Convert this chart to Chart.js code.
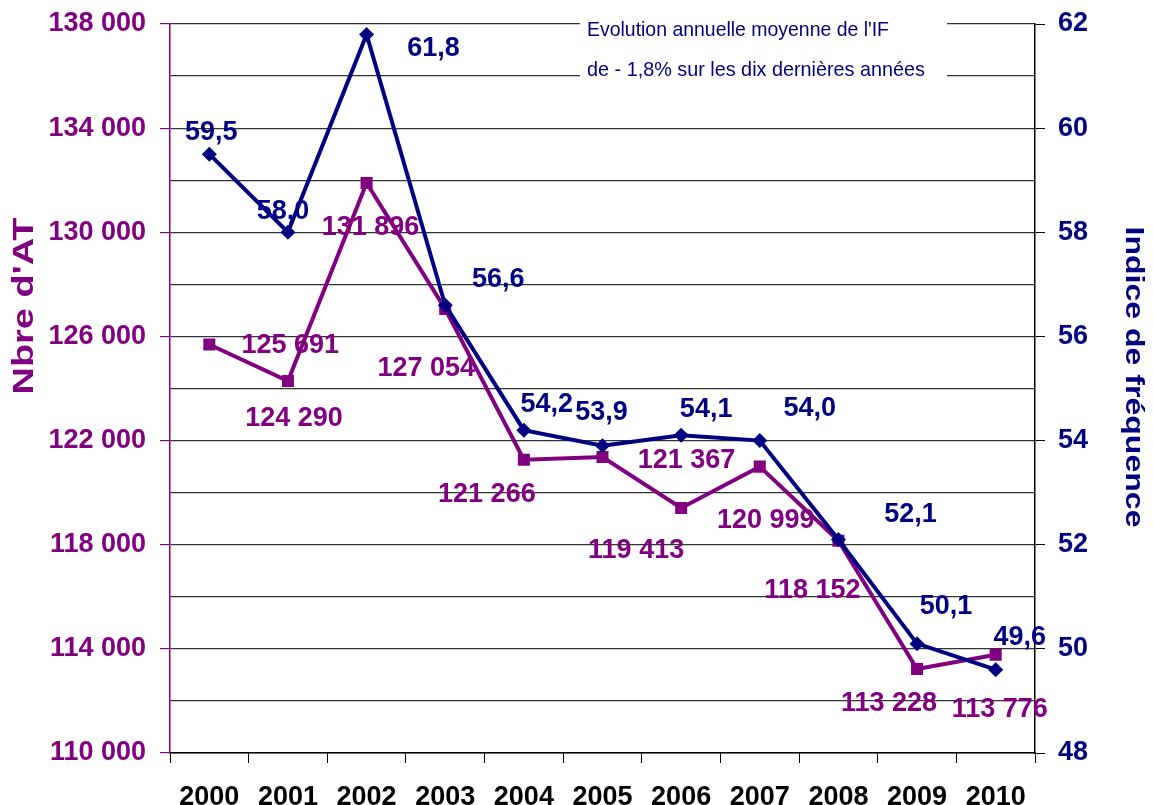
<!DOCTYPE html>
<html>
<head>
<meta charset="utf-8">
<script src="https://cdn.jsdelivr.net/npm/chart.js@4/dist/chart.umd.min.js"></script>
<style>
  body { margin: 0; background: #fff; }
  #wrap { width: 1153px; height: 805px; position: relative; }
</style>
</head>
<body>
<div id="wrap"><canvas id="graph"></canvas></div>
<script>
// data
var years = ['2000', '2001', '2002', '2003', '2004', '2005', '2006', '2007', '2008', '2009', '2010'];
var nbAT = [125691, 124290, 131896, 127054, 121266, 121367, 119413, 120999, 118152, 113228, 113776];
var indice = [59.5, 58.0, 61.8, 56.6, 54.2, 53.9, 54.1, 54.0, 52.1, 50.1, 49.6];
var boxLines = ["Evolution annuelle moyenne de l'IF", "de - 1,8% sur les dix dernières années"];

// label placement relative to each point (layout only)
var atLabelOffsets = [[81, 1], [6, 38], [4, 45], [-19, 60], [-37, 35], [84, 3], [-45, 43], [6, 54], [-26, 50], [-28, 35], [4, 55]];
var ifLabelOffsets = [[2, -22], [-5, -21], [67, 14], [53, -26], [23, -26], [-1, -33], [25, -26], [50, -32], [72, -25], [29, -37], [24, -32]];

var PURPLE = '#800080';
var NAVY = '#000080';
var FAMILY = '"Liberation Sans", Arial, sans-serif';
var BOLD = 'bold 27px ' + FAMILY;

function spaced(v) {
    return String(v).replace(/\B(?=(\d{3})+(?!\d))/g, ' ');
}
function comma(v) {
    return v.toFixed(1).replace('.', ',');
}

function stretchText(ctx, text, x, y, width, rot) {
    ctx.save();
    ctx.translate(x, y);
    ctx.rotate(rot);
    var w = ctx.measureText(text).width;
    ctx.scale(width / w, 1);
    ctx.fillText(text, 0, 0);
    ctx.restore();
}

var extras = {
    id: 'extras',
    beforeDatasetsDraw: function (chart) {
        var ctx = chart.ctx;
        ctx.save();
        ctx.fillStyle = '#fff';
        ctx.fillRect(580, 6, 367, 82);
        ctx.fillStyle = NAVY;
        ctx.font = '21px ' + FAMILY;
        ctx.textAlign = 'left';
        ctx.textBaseline = 'middle';
        stretchText(ctx, boxLines[0], 587, 30, 302, 0);
        stretchText(ctx, boxLines[1], 587, 70, 338, 0);
        ctx.restore();
    },
    afterDatasetsDraw: function (chart) {
        var ctx = chart.ctx;
        ctx.save();
        ctx.font = BOLD;
        ctx.textAlign = 'center';
        ctx.textBaseline = 'middle';
        var mIF = chart.getDatasetMeta(0).data;
        var mAT = chart.getDatasetMeta(1).data;
        ctx.fillStyle = PURPLE;
        for (var i = 0; i < mAT.length; i++) {
            ctx.fillText(spaced(nbAT[i]), mAT[i].x + atLabelOffsets[i][0], mAT[i].y + atLabelOffsets[i][1]);
        }
        ctx.fillStyle = NAVY;
        for (var j = 0; j < mIF.length; j++) {
            ctx.fillText(comma(indice[j]), mIF[j].x + ifLabelOffsets[j][0], mIF[j].y + ifLabelOffsets[j][1]);
        }
        ctx.restore();
    },
    afterDraw: function (chart) {
        var ctx = chart.ctx;
        ctx.save();
        ctx.textAlign = 'center';
        ctx.textBaseline = 'middle';
        ctx.fillStyle = PURPLE;
        ctx.font = 'bold 30px ' + FAMILY;
        stretchText(ctx, "Nbre d'AT", 25, 306, 177, -Math.PI / 2);
        ctx.fillStyle = NAVY;
        ctx.font = 'bold 26px ' + FAMILY;
        stretchText(ctx, 'Indice de fréquence', 1133, 377, 301, Math.PI / 2);
        ctx.restore();
    }
};

var graphTarget = document.getElementById('graph');

var lineGraph = new Chart(graphTarget, {
    type: 'line',
    data: {
        labels: years,
        datasets: [
            {
                label: 'Indice de fréquence',
                data: indice,
                yAxisID: 'yIF',
                borderColor: NAVY,
                backgroundColor: NAVY,
                borderWidth: 4,
                pointStyle: 'rectRot',
                pointRadius: 7.5,
                pointBorderWidth: 0,
                tension: 0
            }, {
                label: "Nbre d'AT",
                data: nbAT,
                yAxisID: 'yAT',
                borderColor: PURPLE,
                backgroundColor: PURPLE,
                borderWidth: 4,
                pointStyle: 'rect',
                pointRadius: 8.5,
                pointBorderWidth: 0,
                tension: 0
            }
        ]
    },
    options: {
        responsive: true,
        maintainAspectRatio: false,
        animation: false,
        layout: { padding: { top: 24, left: 0, right: 0, bottom: 0 } },
        plugins: {
            legend: { display: false },
            tooltip: { enabled: false }
        },
        scales: {
            x: {
                offset: true,
                grid: { offset: true, drawOnChartArea: false, tickLength: 10, tickColor: '#000', tickWidth: 1 },
                border: { color: '#000', width: 1.5 },
                ticks: { color: '#000', font: { family: FAMILY, size: 27, weight: 'bold' }, padding: 18, autoSkip: false, maxRotation: 0 },
                afterFit: function (scale) {
                    scale.height = 52;
                    scale.paddingLeft = 0;
                    scale.paddingRight = 0;
                }
            },
            yAT: {
                position: 'left',
                min: 110000,
                max: 138000,
                ticks: {
                    stepSize: 2000,
                    color: PURPLE,
                    padding: 14,
                    font: { family: FAMILY, size: 27, weight: 'bold' },
                    callback: function (v) { return v % 4000 === 2000 ? spaced(v) : ''; }
                },
                grid: {
                    color: '#333',
                    lineWidth: 1.2,
                    tickLength: 10,
                    tickColor: function (c) { return c.tick && c.tick.value % 4000 === 2000 ? PURPLE : 'rgba(0,0,0,0)'; }
                },
                border: { color: PURPLE, width: 1.5 },
                afterFit: function (scale) {
                    scale.width = 170;
                    scale.paddingTop = 0;
                    scale.paddingBottom = 0;
                }
            },
            yIF: {
                position: 'right',
                min: 48,
                max: 62,
                ticks: {
                    stepSize: 2,
                    color: NAVY,
                    padding: 13,
                    font: { family: FAMILY, size: 27, weight: 'bold' }
                },
                grid: { drawOnChartArea: false, tickLength: 10, tickColor: '#000' },
                border: { color: '#000', width: 1.5 },
                afterFit: function (scale) {
                    scale.width = 118;
                    scale.paddingTop = 0;
                    scale.paddingBottom = 0;
                }
            }
        }
    },
    plugins: [extras]
});
</script>
</body>
</html>
